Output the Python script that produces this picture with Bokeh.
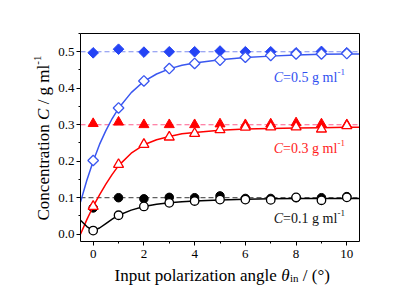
from math import pi
from bokeh.plotting import figure
from bokeh.models import (Range1d, Label, LinearAxis, SingleIntervalTicker, FixedTicker,
                          NumeralTickFormatter)
from bokeh.embed import file_html
from bokeh.resources import INLINE

# ---------------- data ----------------
angles = [0, 1, 2, 3, 4, 5, 6, 7, 8, 9, 10]
set_conc = [0.5, 0.3, 0.1]

blue_set_pts = [0.497, 0.507, 0.499, 0.500, 0.500, 0.502, 0.500, 0.500, 0.497, 0.501, 0.497]
blue_meas = [0.202, 0.346, 0.420, 0.454, 0.468, 0.477, 0.485, 0.490, 0.494, 0.494, 0.495]
red_set_pts = [0.303, 0.307, 0.300, 0.300, 0.300, 0.302, 0.300, 0.302, 0.305, 0.302, 0.300]
red_meas = [0.076, 0.191, 0.246, 0.266, 0.276, 0.286, 0.293, 0.294, 0.294, 0.288, 0.297]
black_set_pts = [0.072, 0.100, 0.097, 0.101, 0.100, 0.105, 0.098, 0.098, 0.100, 0.100, 0.103]
black_meas = [0.010, 0.052, 0.076, 0.086, 0.091, 0.095, 0.095, 0.094, 0.101, 0.093, 0.101]

fit_x = [-0.5, -0.25, 0, 0.25, 0.5, 0.75, 1, 1.5, 2, 2.5, 3, 3.5, 4, 5, 6, 7, 8, 9, 10, 10.5]
blue_fit = [0.088, 0.148, 0.200, 0.246, 0.284, 0.317, 0.345, 0.388, 0.419, 0.439, 0.453, 0.463,
            0.469, 0.478, 0.484, 0.488, 0.491, 0.493, 0.494, 0.494]
red_fit = [0.000, 0.040, 0.076, 0.108, 0.137, 0.164, 0.188, 0.222, 0.245, 0.259, 0.268, 0.275,
           0.279, 0.285, 0.288, 0.290, 0.291, 0.292, 0.293, 0.293]
black_fit = [0.038, 0.021, 0.010, 0.017, 0.029, 0.041, 0.052, 0.066, 0.076, 0.082, 0.086, 0.089,
             0.091, 0.094, 0.096, 0.097, 0.098, 0.098, 0.098, 0.098]

x_ticks_interval = 2
y_ticks_interval = 0.1

# ---------------- layout ----------------
X0, X1 = -0.5, 10.5
Y0, Y1 = -0.02, 0.55
W, H = 407, 286
BL, BT, BW, BH = 80, 33, 279, 208

sx = BW / (X1 - X0)
sy = BH / (Y1 - Y0)
xr = Range1d(X0 - BL / sx, X1 + (W - BL - BW) / sx)
yr = Range1d(Y0 - (H - BT - BH) / sy, Y1 + BT / sy)

def px2x(px):
    return X0 + (px - BL) / sx

def py2y(py):
    return Y0 + (BT + BH - py) / sy

SERIF = "Liberation Serif"
BLUE, BLUE_L, BLUE_D = "#2443f5", "#3a57f0", "#7d8cf0"
RED, PINK = "#ff0000", "#ff5c8c"
BLACK, GRAY = "#000000", "#606060"
NB = "\u00a0"

p = figure(width=W, height=H, x_range=xr, y_range=yr,
           x_axis_type=None, y_axis_type=None,
           output_backend="svg", toolbar_location=None,
           min_border_left=0, min_border_right=0, min_border_top=0, min_border_bottom=0)
p.background_fill_color = "white"
p.border_fill_color = "white"
p.outline_line_color = None


def style_axis(ax, ticks=True):
    ax.axis_line_color = "black"
    ax.axis_line_width = 1
    ax.major_tick_in = 0
    ax.minor_tick_in = 0
    ax.major_tick_out = 4 if ticks else 0
    ax.minor_tick_out = 2 if ticks else 0
    ax.major_tick_line_color = "black" if ticks else None
    ax.minor_tick_line_color = "black" if ticks else None
    ax.major_label_text_font = SERIF
    ax.major_label_text_font_size = "13px"
    ax.major_label_text_color = "black" if ticks else None


xb = LinearAxis(fixed_location=Y0, bounds=(X0, X1),
                ticker=SingleIntervalTicker(interval=x_ticks_interval, num_minor_ticks=2))
style_axis(xb)
xb.major_label_standoff = 4
yl = LinearAxis(fixed_location=X0, bounds=(Y0, Y1),
                ticker=SingleIntervalTicker(interval=y_ticks_interval, num_minor_ticks=2),
                formatter=NumeralTickFormatter(format="0.0"))
style_axis(yl)
yl.major_label_standoff = 2
xt = LinearAxis(fixed_location=Y1, bounds=(X0, X1), ticker=FixedTicker(ticks=[]))
style_axis(xt, ticks=False)
yrgt = LinearAxis(fixed_location=X1, bounds=(Y0, Y1), ticker=FixedTicker(ticks=[]))
style_axis(yrgt, ticks=False)
p.add_layout(xb, "below")
p.add_layout(yl, "left")
p.add_layout(xt, "above")
p.add_layout(yrgt, "right")

for c, col in zip(set_conc, [BLUE_D, PINK, GRAY]):
    p.segment(x0=[X0], y0=[c], x1=[X1], y1=[c], line_color=col, line_width=1.2,
              line_dash="5 3")

p.scatter(angles, blue_set_pts, marker="square", angle=pi / 4, size=7.5,
          fill_color=BLUE, line_color=BLUE, line_width=1)
p.scatter(angles, red_set_pts, marker="triangle", size=10,
          fill_color=RED, line_color=RED, line_width=1)
p.scatter(angles, black_set_pts, marker="circle", size=8.5,
          fill_color=BLACK, line_color=BLACK, line_width=1)

p.line(fit_x, blue_fit, line_color=BLUE_L, line_width=1.5)
p.line(fit_x, red_fit, line_color=RED, line_width=1.5)
p.line(fit_x, black_fit, line_color=BLACK, line_width=1.5)

p.scatter(angles, blue_meas, marker="square", angle=pi / 4, size=7.5,
          fill_color="white", line_color=BLUE_L, line_width=1.3)
p.scatter(angles, red_meas, marker="triangle", size=10,
          fill_color="white", line_color=RED, line_width=1.3)
p.scatter(angles, black_meas, marker="circle", size=8.5,
          fill_color="white", line_color=BLACK, line_width=1.3)


def piece(x, y, text, size, color="black", style="normal", dx=0, dy=0, angle=0):
    p.add_layout(Label(x=x, y=y, text=text, x_offset=dx, y_offset=dy, angle=angle,
                       text_font=SERIF, text_font_size=f"{size}px", text_font_style=style,
                       text_color=color, text_align="left", text_baseline="alphabetic"))


for conc, col, base in [("0.5", "#3050f0", 77.3), ("0.3", "#ff1a1a", 148.3), ("0.1", "#111111", 218.3)]:
    ax_, ay_ = px2x(273.3), py2y(base)
    piece(ax_, ay_, "C", 14, col, "italic")
    piece(ax_, ay_, "=" + conc + " g ml", 14, col, dx=9.3)
    piece(ax_, ay_, "-1", 9, col, dx=63.6, dy=5.5)

# x-axis title
bx, by = px2x(114), py2y(274.5)
piece(bx, by, "Input polarization angle", 17)
piece(bx, by, "\u03b8", 17, style="italic", dx=166.7)
piece(bx, by, "in", 11, dx=175.4, dy=-3)
piece(bx, by, NB + "/ (\u00b0)", 17, dx=184.0)

# y-axis title (rotated)
lx, ly = px2x(43), py2y(220)
piece(lx, ly, "Concentration", 17, angle=pi / 2)
piece(lx, ly, "C", 17, style="italic", angle=pi / 2, dy=100.6)
piece(lx, ly, NB + "/ g ml", 17, angle=pi / 2, dy=111.9)
piece(lx, ly, "-1", 11, angle=pi / 2, dy=155.8, dx=-6)

open("out.html", "w").write(file_html(p, INLINE))
